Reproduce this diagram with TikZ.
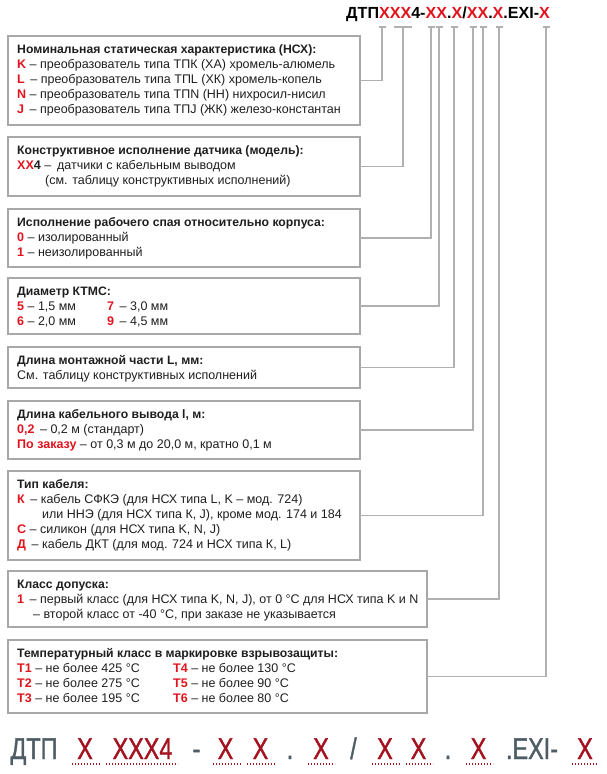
\documentclass[tikz,border=0pt]{standalone}
\usepackage{fontspec}
\setmainfont{Liberation Sans}
\newfontfamily\condfont[FakeStretch=0.78,FakeBold=1.2]{Liberation Sans}
\definecolor{myred}{HTML}{E1141E}
\definecolor{darkred}{HTML}{A3121E}
\definecolor{slate}{HTML}{4E5C65}
\definecolor{boxgray}{HTML}{A8A8A8}
\definecolor{linegray}{HTML}{B0B0B0}
\definecolor{txtcol}{HTML}{1E1E1E}
\newcommand\R[1]{\textcolor{myred}{\bfseries #1}}
\newcommand\Hx[1]{\textcolor{myred}{#1}}
\newcommand\Ttl[1]{{\bfseries\fontsize{12.2}{14}\selectfont #1}}
\begin{document}
\begin{tikzpicture}[x=1pt,y=-1pt,
  box/.style={draw=boxgray, line width=1.4pt, anchor=north west, inner sep=0, outer sep=0, minimum width=352},
  wbox/.style={box, minimum width=419},
  conn/.style={draw=linegray, line width=1.2pt},
  txt/.style={anchor=base west, inner sep=0, text=txtcol, font=\fontsize{12.5}{14}\selectfont},
  bot/.style={anchor=base, inner sep=0, font=\condfont\fontsize{30}{32}\selectfont, text=slate},
  botx/.style={bot, text=darkred},
  dotl/.style={draw=darkred, line width=1.1pt, dash pattern=on 1.1pt off 1.9pt}
]
\useasboundingbox (0,0) rectangle (606,774);

% header
\node[anchor=base west, inner sep=0, font=\bfseries\fontsize{16.1}{18}\selectfont] (hdr) at (346,18.5)
  {ДТП\Hx{XXX}4-\Hx{XX}.\Hx{X}/\Hx{XX}.\Hx{X}.EXI-\Hx{X}};

% header coordinates
\coordinate (h1) at (382,27);
\coordinate (h2) at (403,27);
\coordinate (h3) at (431,27);
\coordinate (h4) at (439,27);
\coordinate (h5) at (454,27);
\coordinate (h6) at (473,27);
\coordinate (h7) at (483,27);
\coordinate (h8) at (499,27);
\coordinate (h9) at (546,27);

% boxes
\node[box, minimum height=89] (b1) at (8,36) {};
\node[box, minimum height=59] (b2) at (8,137) {};
\node[box, minimum height=58] (b3) at (8,209) {};
\node[box, minimum height=56] (b4) at (8,278) {};
\node[box, minimum height=41] (b5) at (8,347) {};
\node[box, minimum height=58] (b6) at (8,401) {};
\node[box, minimum height=89] (b7) at (8,471) {};
\node[wbox, minimum height=56] (b8) at (8,571) {};
\node[wbox, minimum height=73] (b9) at (8,640) {};

% connectors
\foreach \b/\h in {b1/h1,b2/h2,b3/h3,b4/h4,b5/h5,b6/h6,b7/h7,b8/h8,b9/h9}{
  \draw[conn] (\b.east) -| (\h);
}
\foreach \h in {h1,h3,h4,h5,h6,h7,h8,h9}{
  \draw[conn] ([xshift=-3.5pt]\h) -- ([xshift=3.5pt]\h);
}
\draw[conn] ([xshift=-9pt]h2) -- ([xshift=9pt]h2);

% box 1
\node[txt] (t1a) at (17,53) {\Ttl{Номинальная статическая характеристика (НСХ):}};
\node[txt] (t1b) at (17,68) {\R{K} – преобразователь типа ТПК (ХА) хромель-алюмель};
\node[txt] (t1c) at (17,83) {\R{L} \,– преобразователь типа ТПL (ХК) хромель-копель};
\node[txt] (t1d) at (17,98) {\R{N} – преобразователь типа ТПN (НН) нихросил-нисил};
\node[txt] (t1e) at (17,113) {\R{J} \,– преобразователь типа ТПJ (ЖК) железо-константан};

% box 2
\node[txt] (t2a) at (17,154) {\Ttl{Конструктивное исполнение датчика (модель):}};
\node[txt] (t2b) at (17,169) {\R{XX}\textbf{4} –};
\node[txt] (t2c) at (57,169) {датчики с кабельным выводом};
\node[txt] (t2d) at (45,184) {(см. таблицу конструктивных исполнений)};

% box 3
\node[txt] (t3a) at (17,226) {\Ttl{Исполнение рабочего спая относительно корпуса:}};
\node[txt] (t3b) at (17,241) {\R{0} – изолированный};
\node[txt] (t3c) at (17,256) {\R{1} – неизолированный};

% box 4
\node[txt] (t4a) at (17,295) {\Ttl{Диаметр КТМС:}};
\node[txt] (t4b) at (17,310) {\R{5} – 1,5 мм};
\node[txt] (t4c) at (17,325) {\R{6} – 2,0 мм};
\node[txt] (t4d) at (107,310) {\R{7} \,– 3,0 мм};
\node[txt] (t4e) at (107,325) {\R{9} \,– 4,5 мм};

% box 5
\node[txt] (t5a) at (17,364) {\Ttl{Длина монтажной части L, мм:}};
\node[txt] (t5b) at (17,379) {См. таблицу конструктивных исполнений};

% box 6
\node[txt] (t6a) at (17,418) {\Ttl{Длина кабельного вывода l, м:}};
\node[txt] (t6b) at (17,433) {\R{0,2} \,– 0,2 м (стандарт)};
\node[txt] (t6c) at (17,448) {\R{По заказу} – от 0,3 м до 20,0 м, кратно 0,1 м};

% box 7
\node[txt] (t7a) at (17,488) {\Ttl{Тип кабеля:}};
\node[txt] (t7b) at (17,503) {\R{К} \,– кабель СФКЭ (для НСХ типа L, K – мод. 724)};
\node[txt] (t7c) at (42,518) {или ННЭ (для НСХ типа К, J), кроме мод. 174 и 184};
\node[txt] (t7d) at (17,533) {\R{С} – силикон (для НСХ типа K, N, J)};
\node[txt] (t7e) at (17,548) {\R{Д} \,– кабель ДКТ (для мод. 724 и НСХ типа К, L)};

% box 8
\node[txt] (t8a) at (17,588) {\Ttl{Класс допуска:}};
\node[txt] (t8b) at (17,603) {\R{1} \,– первый класс (для НСХ типа K, N, J), от 0 °C для НСХ типа K и N};
\node[txt] (t8c) at (33,618) {– второй класс от -40 °C, при заказе не указывается};

% box 9
\node[txt] (t9a) at (17,657) {\Ttl{Температурный класс в маркировке взрывозащиты:}};
\node[txt] (t9b) at (17,672) {\R{T1} – не более 425 °C};
\node[txt] (t9c) at (17,687) {\R{T2} – не более 275 °C};
\node[txt] (t9d) at (17,702) {\R{T3} – не более 195 °C};
\node[txt] (t9e) at (173,672) {\R{T4} – не более 130 °C};
\node[txt] (t9f) at (173,687) {\R{T5} – не более 90 °C};
\node[txt] (t9g) at (173,702) {\R{T6} – не более 80 °C};

% bottom row
\node[bot] (c0) at (34,759) {ДТП};
\node[botx] (c1) at (85,759) {X};
\node[botx] (c2) at (142.5,759) {XXX4};
\node[bot] (c3) at (196.5,759) {-};
\node[botx] (c4) at (225.5,759) {X};
\node[botx] (c5) at (260.5,759) {X};
\node[bot] (c6) at (290,759) {.};
\node[botx] (c7) at (321,759) {X};
\node[bot] (c8) at (353.5,759) {/};
\node[botx] (c9) at (385,759) {X};
\node[botx] (c10) at (418.5,759) {X};
\node[bot] (c11) at (448,759) {.};
\node[botx] (c12) at (478.5,759) {X};
\node[bot] (c13) at (532,759) {.EXI-};
\node[botx] (c14) at (585,759) {X};

\foreach \a/\b in {72/100,106/178,213/241,247/275,308/335,372/400,406/433,466/493,572/598}{
  \draw[dotl] (\a,764) -- (\b,764);
}
\end{tikzpicture}
\end{document}
